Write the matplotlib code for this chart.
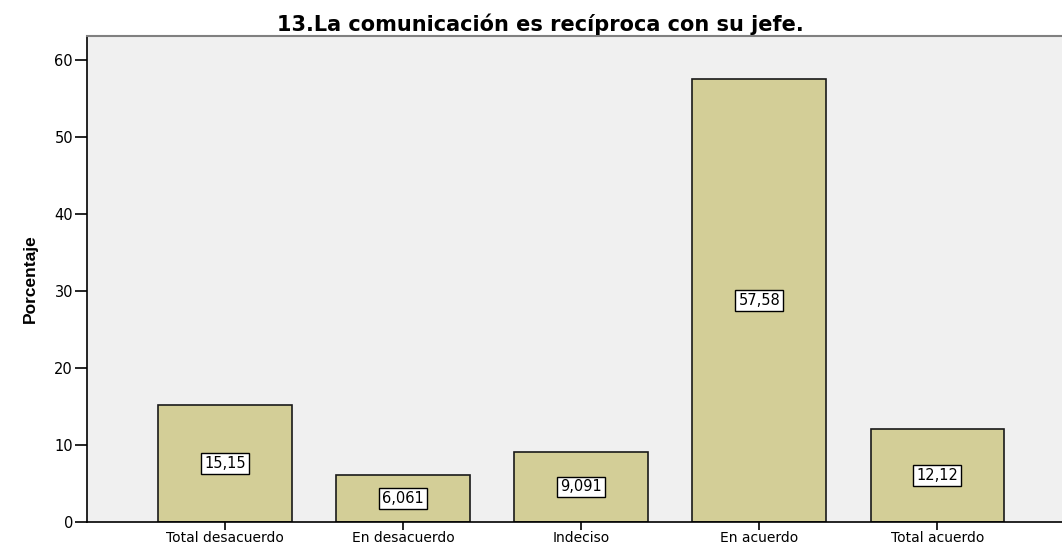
import matplotlib
matplotlib.use("Agg")
import matplotlib.pyplot as plt

categories = ["Total desacuerdo", "En desacuerdo", "Indeciso", "En acuerdo", "Total acuerdo"]
values = [15.15, 6.061, 9.091, 57.58, 12.12]
labels = ["15,15", "6,061", "9,091", "57,58", "12,12"]
yticks = [0, 10, 20, 30, 40, 50, 60]

# wide sans to mimic the stretched SPSS export
plt.rcParams['font.family'] = ['DejaVu Sans']

fig = plt.figure(figsize=(10.62, 5.46), dpi=100)
ax = fig.add_axes([87 / 1062, 24 / 546, 1 - 87 / 1062, (522 - 36) / 546])
ax.set_facecolor('#f0f0f0')

x = list(range(len(categories)))
ax.bar(x, values, width=0.75, color='#d3ce97', edgecolor='#1a1a1a', linewidth=1.2, zorder=2)

for xi, v, lab in zip(x, values, labels):
    ax.text(xi, v / 2, lab, ha='center', va='center', fontsize=10.5, zorder=3,
            bbox=dict(boxstyle='square,pad=0.2', facecolor='white', edgecolor='black', linewidth=1))

ax.set_xlim(-0.775, 4.70)
ax.set_ylim(0, 63.1)
ax.set_yticks(yticks)
ax.set_yticklabels([str(t) for t in yticks], fontsize=10.5)
ax.set_xticks(x)
ax.set_xticklabels(categories, fontsize=10)
ax.tick_params(axis='y', length=9, width=1.2, pad=1)
ax.tick_params(axis='x', length=6, width=1.2, pad=0.5)

ax.spines['right'].set_visible(False)
ax.spines['top'].set_color('#808080')
ax.spines['top'].set_linewidth(1.5)
ax.spines['left'].set_linewidth(1.2)
ax.spines['bottom'].set_linewidth(1.2)

ax.set_ylabel("Porcentaje", fontsize=12.5, fontweight='bold',
              family=['Liberation Sans Narrow', 'Liberation Sans'], labelpad=12)

fig.text(540 / 1062, 1 - 31 / 546, "13.La comunicación es recíproca con su jefe.",
         ha='center', va='baseline', fontsize=15, fontweight='bold')

fig.savefig("out.png", dpi=100)
